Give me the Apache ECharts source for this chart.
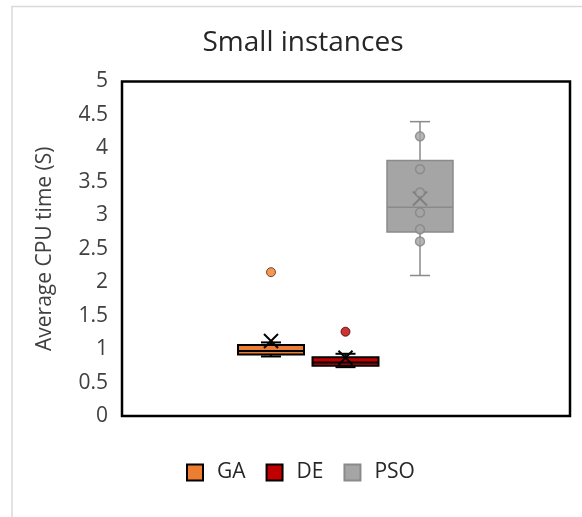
<!DOCTYPE html>
<html><head><meta charset="utf-8">
<script src="https://cdn.jsdelivr.net/npm/echarts@6/dist/echarts.min.js"></script>
<style>html,body{margin:0;padding:0;background:#fff}#c{width:582px;height:517px}</style>
</head><body><div id="c"></div>
<script>
const algorithms = ['GA', 'DE', 'PSO'];
// box statistics: [min, Q1, median, Q3, max]
const gaBox = [0.89, 0.92, 0.97, 1.06, 1.10];
const deBox = [0.73, 0.75, 0.80, 0.88, 0.93];
const psoBox = [2.10, 2.75, 3.12, 3.82, 4.40];
const means = [1.12, 0.87, 3.25];
const gaOutliers = [2.15];
const deOutliers = [1.26];
const psoPoints = [4.18, 3.69, 3.34, 3.04, 2.79, 2.61];
const yMin = 0, yMax = 5, yStep = 0.5;

const FONT = 'Open Sans';
const styles = {
  GA: {fill: '#ED7D31', stroke: '#000000', lw: 2, mean: '#000000'},
  DE: {fill: '#C00000', stroke: '#000000', lw: 2, mean: '#000000'},
  PSO: {fill: '#A5A5A5', stroke: '#8A8A8A', lw: 1.5, mean: '#7F7F7F'}
};

function boxRender(st) {
  return function (params, api) {
    const c = api.value(0);
    const ys = [1, 2, 3, 4, 5, 6].map(i => api.coord([c, api.value(i)])[1]);
    const x = api.coord([c, 0])[0];
    const [pMin, pQ1, pMed, pQ3, pMax, pMean] = ys;
    const half = 33, cap = 10, m = 7;
    const ls = {stroke: st.stroke, lineWidth: st.lw, fill: null};
    const ms = {stroke: st.mean, lineWidth: 2, fill: null};
    return {type: 'group', children: [
      {type: 'line', shape: {x1: x, y1: pMax, x2: x, y2: pQ3}, style: ls},
      {type: 'line', shape: {x1: x, y1: pQ1, x2: x, y2: pMin}, style: ls},
      {type: 'line', shape: {x1: x - cap, y1: pMax, x2: x + cap, y2: pMax}, style: ls},
      {type: 'line', shape: {x1: x - cap, y1: pMin, x2: x + cap, y2: pMin}, style: ls},
      {type: 'rect', shape: {x: x - half, y: pQ3, width: 2 * half, height: pQ1 - pQ3},
        style: {fill: st.fill, stroke: st.stroke, lineWidth: st.lw}},
      {type: 'line', shape: {x1: x - half, y1: pMed, x2: x + half, y2: pMed}, style: ls},
      {type: 'line', shape: {x1: x - m, y1: pMean - m, x2: x + m, y2: pMean + m}, style: ms},
      {type: 'line', shape: {x1: x + m, y1: pMean - m, x2: x - m, y2: pMean + m}, style: ms}
    ]};
  };
}

const boxes = [gaBox, deBox, psoBox];
const boxSeries = algorithms.map((name, i) => ({
  name: name,
  type: 'custom',
  xAxisIndex: 1, yAxisIndex: 1,
  itemStyle: {color: styles[name].fill},
  renderItem: boxRender(styles[name]),
  encode: {x: 0, y: [1, 2, 3, 4, 5, 6]},
  data: [[i].concat(boxes[i], [means[i]])],
  z: 2
}));

const pointSeries = [
  {type: 'scatter', xAxisIndex: 1, yAxisIndex: 1, symbolSize: 9, z: 3,
    itemStyle: {color: '#ED7D31', borderColor: '#5a2a00', borderWidth: 1},
    data: gaOutliers.map(v => [algorithms[0], v])},
  {type: 'scatter', xAxisIndex: 1, yAxisIndex: 1, symbolSize: 9, z: 3,
    itemStyle: {color: '#C00000', borderColor: '#400000', borderWidth: 1},
    data: deOutliers.map(v => [algorithms[1], v])},
  {type: 'scatter', xAxisIndex: 1, yAxisIndex: 1, symbolSize: 9, z: 3,
    itemStyle: {color: '#A5A5A5', borderColor: '#858585', borderWidth: 1.5},
    data: psoPoints.map(v => [algorithms[2], v])}
];

const chart = echarts.init(document.getElementById('c'), null, {renderer: 'canvas'});
chart.setOption({
  animation: false,
  textStyle: {fontFamily: FONT},
  graphic: [{type: 'rect', shape: {x: 12, y: 6.5, width: 700, height: 700},
    style: {fill: null, stroke: '#D9D9D9', lineWidth: 1.5}, silent: true, z: -10}],
  title: {
    text: 'Small instances', left: 298, top: 24, textAlign: 'center',
    textStyle: {fontFamily: FONT, fontSize: 28, fontWeight: 'normal', color: '#262626'}
  },
  legend: {
    left: 186, top: 462, padding: 0, itemWidth: 16, itemHeight: 16, itemGap: 20,
    textStyle: {fontFamily: FONT, fontSize: 21, color: '#262626', padding: [0, 0, 0, 9]},
    data: [
      {name: 'GA', icon: 'rect', itemStyle: {color: '#ED7D31', borderColor: '#000', borderWidth: 2}},
      {name: 'DE', icon: 'rect', itemStyle: {color: '#C00000', borderColor: '#000', borderWidth: 2}},
      {name: 'PSO', icon: 'rect', itemStyle: {color: '#A5A5A5', borderColor: '#8A8A8A', borderWidth: 2}}
    ]
  },
  grid: [
    {left: 122, top: 81.5, width: 448, height: 334.5, show: true, borderColor: '#000', borderWidth: 2.5, backgroundColor: 'transparent'},
    {left: 233.75, top: 81.5, width: 223.5, height: 334.5}
  ],
  xAxis: [
    {type: 'category', gridIndex: 0, data: ['Small instances'], show: false},
    {type: 'category', gridIndex: 1, data: algorithms, show: false}
  ],
  yAxis: [
    {type: 'value', gridIndex: 0, min: yMin, max: yMax, interval: yStep,
      name: 'Average CPU time (S)', nameLocation: 'middle', nameGap: 66,
      nameTextStyle: {fontFamily: FONT, fontSize: 21, color: '#404040'},
      axisLine: {show: false}, axisTick: {show: false}, splitLine: {show: false},
      axisLabel: {margin: 14, fontFamily: FONT, fontSize: 21, color: '#404040', padding: [5, 0, 0, 0]}},
    {type: 'value', gridIndex: 1, min: yMin, max: yMax, show: false, splitLine: {show: false}}
  ],
  series: boxSeries.concat(pointSeries)
});
</script></body></html>
